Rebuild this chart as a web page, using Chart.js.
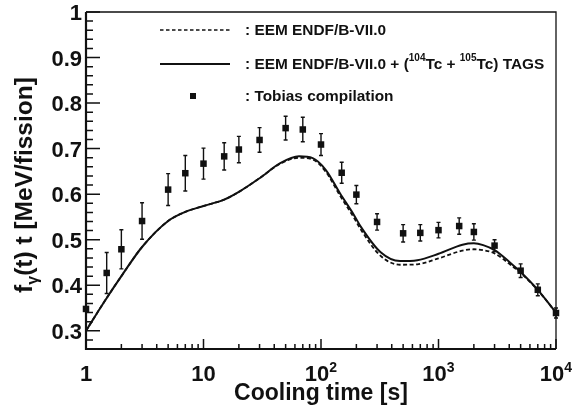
<!DOCTYPE html>
<html>
<head>
<meta charset="utf-8">
<script src="https://cdn.jsdelivr.net/npm/chart.js@4/dist/chart.umd.min.js"></script>
<style>
  body { margin: 0; background: #fff; }
  #c { display: block; }
</style>
</head>
<body>
<canvas id="c" width="572" height="410"></canvas>
<script>
// Tobias compilation points (time in s, value in MeV/fission, error bar half-size)
var tobiasTime  = [1, 1.5, 2, 3, 5, 7, 10, 15, 20, 30, 50, 70, 100, 150, 200, 300, 500, 700, 1000, 1500, 2000, 3000, 5000, 7000, 10000];
var tobiasValue = [0.348, 0.427, 0.479, 0.541, 0.610, 0.646, 0.667, 0.683, 0.698, 0.719, 0.745, 0.742, 0.709, 0.647, 0.599, 0.539, 0.514, 0.515, 0.521, 0.530, 0.517, 0.487, 0.432, 0.390, 0.339];
var tobiasError = [0, 0.045, 0.043, 0.040, 0.035, 0.039, 0.034, 0.030, 0.029, 0.027, 0.026, 0.027, 0.024, 0.023, 0.020, 0.018, 0.019, 0.018, 0.017, 0.018, 0.018, 0.013, 0.015, 0.013, 0.011];

// summation calculations
var curveTime = [1, 1.4, 2, 3, 5, 7, 10, 15, 20, 30, 45, 65, 85, 110, 145, 190, 220, 320, 470, 660, 1000, 1600, 2000, 2400, 3000, 4100, 5100, 7000, 10000];
var eemValue  = [0.300, 0.360, 0.420, 0.484, 0.541, 0.561, 0.574, 0.588, 0.605, 0.635, 0.667, 0.680, 0.676, 0.649, 0.597, 0.549, 0.521, 0.465, 0.445, 0.446, 0.459, 0.476, 0.479, 0.477, 0.470, 0.445, 0.425, 0.389, 0.340];
var tagsValue = [0.300, 0.360, 0.420, 0.484, 0.541, 0.561, 0.574, 0.588, 0.605, 0.635, 0.668, 0.683, 0.679, 0.653, 0.602, 0.555, 0.527, 0.473, 0.453, 0.455, 0.469, 0.489, 0.492, 0.488, 0.477, 0.449, 0.427, 0.390, 0.340];

var xMajor = [1, 10, 100, 1000, 10000];
var xLabels = ['1', '10', '10|2', '10|3', '10|4'];
var yMajor = [0.3, 0.4, 0.5, 0.6, 0.7, 0.8, 0.9, 1];
var yLabels = ['0.3', '0.4', '0.5', '0.6', '0.7', '0.8', '0.9', '1'];

var INK = '#111';
var FONT = '"Liberation Sans", Arial, sans-serif';

var toPoints = function(xs, ys) {
  return xs.map(function(x, i) { return { x: x, y: ys[i] }; });
};

// draws runs of [text, 'sup'/'sub'/null] pieces, returns end x
var drawRuns = function(ctx, runs, x, y, size) {
  runs.forEach(function(r) {
    var s = r[1] ? Math.round(size * 0.65) : size;
    ctx.font = 'bold ' + s + 'px ' + FONT;
    var dy = r[1] === 'sup' ? -size * 0.42 : (r[1] === 'sub' ? size * 0.25 : 0);
    ctx.fillText(r[0], x, y + dy);
    x += ctx.measureText(r[0]).width;
  });
  return x;
};
var runsWidth = function(ctx, runs, size) {
  var w = 0;
  runs.forEach(function(r) {
    var s = r[1] ? Math.round(size * 0.65) : size;
    ctx.font = 'bold ' + s + 'px ' + FONT;
    w += ctx.measureText(r[0]).width;
  });
  return w;
};

var errorBars = {
  id: 'errorBars',
  afterDatasetsDraw: function(chart) {
    var ctx = chart.ctx;
    var xs = chart.scales.x, ys = chart.scales.y;
    ctx.save();
    ctx.strokeStyle = INK;
    ctx.lineWidth = 1.4;
    tobiasTime.forEach(function(t, i) {
      var e = tobiasError[i];
      if (!e) return;
      var px = xs.getPixelForValue(t);
      var top = ys.getPixelForValue(tobiasValue[i] + e);
      var bot = ys.getPixelForValue(tobiasValue[i] - e);
      ctx.beginPath();
      ctx.moveTo(px, top); ctx.lineTo(px, bot);
      ctx.moveTo(px - 2, top); ctx.lineTo(px + 2, top);
      ctx.moveTo(px - 2, bot); ctx.lineTo(px + 2, bot);
      ctx.stroke();
    });
    ctx.restore();
  }
};

var frame = {
  id: 'frame',
  afterDraw: function(chart) {
    var ctx = chart.ctx, a = chart.chartArea;
    var xs = chart.scales.x, ys = chart.scales.y;
    ctx.save();
    ctx.strokeStyle = INK;
    ctx.fillStyle = INK;

    // box
    ctx.lineWidth = 1.3;
    ctx.beginPath();
    ctx.moveTo(a.left, a.top); ctx.lineTo(a.right, a.top); ctx.lineTo(a.right, a.bottom);
    ctx.stroke();
    ctx.lineWidth = 2.2;
    ctx.beginPath();
    ctx.moveTo(a.left, a.top); ctx.lineTo(a.left, a.bottom); ctx.lineTo(a.right, a.bottom);
    ctx.stroke();

    // y ticks
    ctx.lineWidth = 1.5;
    ctx.beginPath();
    for (var k = 14; k <= 50; k++) {
      var py = ys.getPixelForValue(k / 50);
      var len = (k % 5 === 0) ? 14 : 7;
      ctx.moveTo(a.left, py); ctx.lineTo(a.left + len, py);
    }
    // x ticks
    for (var d = 0; d < 4; d++) {
      for (var m = 1; m <= 9; m++) {
        var px = xs.getPixelForValue(m * Math.pow(10, d));
        var l = m === 1 ? 10 : 5;
        ctx.moveTo(px, a.bottom); ctx.lineTo(px, a.bottom - l);
      }
    }
    ctx.moveTo(a.right, a.bottom); ctx.lineTo(a.right, a.bottom - 10);
    ctx.stroke();

    // y labels
    ctx.font = 'bold 22px ' + FONT;
    ctx.textAlign = 'right';
    ctx.textBaseline = 'alphabetic';
    yMajor.forEach(function(v, i) {
      ctx.fillText(yLabels[i], a.left - 4, ys.getPixelForValue(v) + 8);
    });

    // x labels
    ctx.textAlign = 'left';
    xMajor.forEach(function(v, i) {
      var parts = xLabels[i].split('|');
      var runs = [[parts[0], null]];
      if (parts[1]) runs.push([parts[1], 'sup']);
      var w = runsWidth(ctx, runs, 22);
      drawRuns(ctx, runs, xs.getPixelForValue(v) - w / 2, 381, 22);
    });

    // axis titles
    ctx.font = 'bold 23px ' + FONT;
    ctx.textAlign = 'center';
    ctx.fillText('Cooling time [s]', 321, 400);

    var yt = [['f', null], ['\u03b3', 'sub'], ['(t) t [MeV/fission]', null]];
    ctx.save();
    ctx.translate(32, 185);
    ctx.rotate(-Math.PI / 2);
    ctx.textAlign = 'left';
    var yw = runsWidth(ctx, yt, 24.5);
    drawRuns(ctx, yt, -yw / 2, 0, 24.5);
    ctx.restore();

    // legend
    ctx.textAlign = 'left';
    ctx.textBaseline = 'middle';
    ctx.lineWidth = 1.3;
    ctx.setLineDash([3.5, 2.5]);
    ctx.beginPath(); ctx.moveTo(160, 30); ctx.lineTo(230, 30); ctx.stroke();
    ctx.setLineDash([]);
    ctx.lineWidth = 1.8;
    ctx.beginPath(); ctx.moveTo(160, 64); ctx.lineTo(230, 64); ctx.stroke();
    ctx.fillRect(190, 93, 6, 6);

    drawRuns(ctx, [[': EEM ENDF/B-VII.0', null]], 245, 31, 15.4);
    drawRuns(ctx, [[': EEM ENDF/B-VII.0 + (', null], ['104', 'sup'], ['Tc + ', null], ['105', 'sup'], ['Tc) TAGS', null]], 245, 65, 15.4);
    drawRuns(ctx, [[': Tobias compilation', null]], 245, 97, 15.4);
    ctx.restore();
  }
};

new Chart(document.getElementById('c'), {
  type: 'line',
  data: {
    datasets: [
      {
        label: 'EEM ENDF/B-VII.0',
        data: toPoints(curveTime, eemValue),
        borderColor: INK,
        borderWidth: 1.8,
        borderDash: [4, 2.5],
        pointRadius: 0,
        cubicInterpolationMode: 'monotone',
        fill: false
      },
      {
        label: 'EEM ENDF/B-VII.0 + (104Tc + 105Tc) TAGS',
        data: toPoints(curveTime, tagsValue),
        borderColor: INK,
        borderWidth: 2,
        pointRadius: 0,
        cubicInterpolationMode: 'monotone',
        fill: false
      },
      {
        label: 'Tobias compilation',
        data: toPoints(tobiasTime, tobiasValue),
        showLine: false,
        pointStyle: 'rect',
        pointRadius: 4.6,
        pointBackgroundColor: INK,
        pointBorderWidth: 0,
        clip: false
      }
    ]
  },
  options: {
    responsive: false,
    animation: false,
    layout: { padding: { left: 86, right: 16, top: 12, bottom: 61 } },
    plugins: { legend: { display: false }, tooltip: { enabled: false } },
    scales: {
      x: {
        type: 'logarithmic', min: 1, max: 10000,
        ticks: { display: false },
        grid: { display: false, drawTicks: false },
        border: { display: false }
      },
      y: {
        type: 'linear', min: 0.26, max: 1.0,
        ticks: { display: false },
        grid: { display: false, drawTicks: false },
        border: { display: false }
      }
    }
  },
  plugins: [errorBars, frame]
});
</script>
</body>
</html>
